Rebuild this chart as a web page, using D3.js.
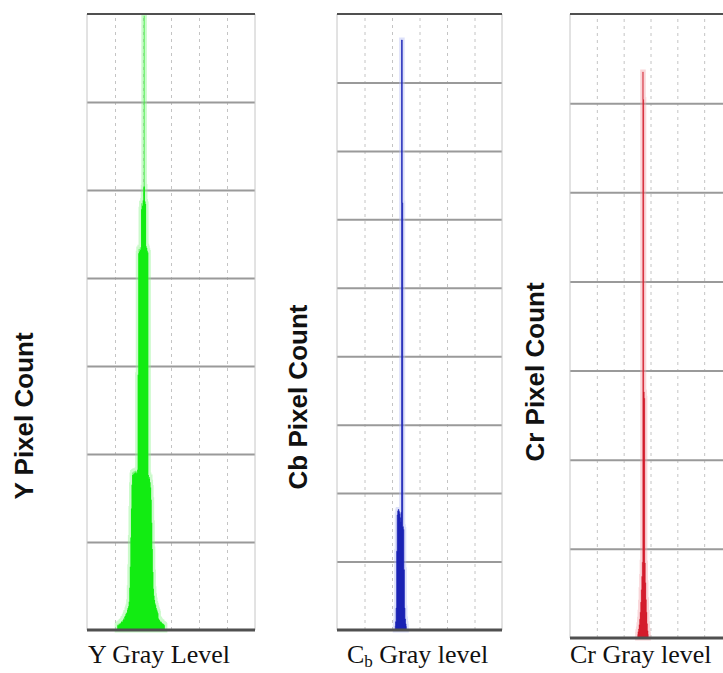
<!DOCTYPE html>
<html lang="en">
<head>
<meta charset="UTF-8">
<title>Y Cb Cr gray level histograms</title>
<script src="https://d3js.org/d3.v7.min.js"></script>
<style>
html, body {
  margin: 0;
  padding: 0;
  background-color: white;
}
#chart svg {
  display: block;
  background-color: white;
}
.grid-h path, .grid-v path {
  display: none;
}
.grid-h line {
  stroke: #9a9a9a;
  stroke-width: 2px;
}
.grid-v line {
  stroke: #c4c4c4;
  stroke-width: 1px;
  stroke-dasharray: 3,4;
}
.side {
  stroke: #c6c6c6;
  stroke-width: 1px;
}
.edge {
  stroke: #505050;
}
.ylabel {
  font-family: "Liberation Sans", Arial, sans-serif;
  font-weight: bold;
  font-size: 26px;
  fill: #111;
}
.xlabel {
  font-family: "Liberation Serif", "Times New Roman", serif;
  font-size: 26px;
  fill: #111;
}
</style>
</head>
<body>
<div id="chart"></div>
<script>

// --------------------------------------
// Data (gray level -> pixel count)
// --------------------------------------

const yLevels = [54,55,56,57,58,59,60,61,62,63,64,65,66,67,68,69,70,71,72,73,74,75,76,77,78,79,
  80,81,82,83,84,85,86,87,88,89,90,91,92,93,94,95,96,97,98,99,100,101,102,103,104,105,106,107,108,109,
  110,111,112,113,114,115,116,117,118,119,120,121,122,123,124,125,126,127,128,129,130,131,132,133,134,
  135,136,137,138,139];
const yCounts = [50,60,55,70,65,80,75,90,100,95,110,130,120,150,160,180,200,190,230,250,270,320,480,720,1050,1380,
  1650,1760,1790,1770,1800,1780,1810,1790,1800,1780,1820,2900,4280,4330,4300,4350,4320,4780,4850,4820,4880,5030,6980,5040,4870,4840,4360,4340,4310,4290,
  1760,1720,1740,1680,1620,1480,1220,920,660,470,390,340,300,280,250,230,210,190,130,120,110,100,90,95,80,
  75,70,65,60,50];

const cbLevels = [106,107,108,109,110,111,112,113,114,115,116,117,118,119,120,121,122,123,124,125,126];
const cbCounts = [60,120,320,1150,1680,1740,1760,1730,1700,1640,1580,1720,8620,6240,1510,1470,880,320,160,90,50];

const crLevels = [126,127,128,129,130,131,132,133,134,135,136,137,138,139,140,141,142,143,144,145,146];
const crCounts = [40,70,100,150,210,290,400,540,690,850,6350,6040,2760,2690,840,620,430,290,160,80,40];

// grid values
const xGridValues = [50, 100, 150, 200, 250];
const yGridY = [1000, 2000, 3000, 4000, 5000, 6000];
const yGridCb = [1000, 2000, 3000, 4000, 5000, 6000, 7000, 8000];
const yGridCr = [1000, 2000, 3000, 4000, 5000, 6000];

// titles
const yTitles = ["Y  Pixel Count", "Cb Pixel Count", "Cr Pixel Count"];
const xTitles = [
  [{t: "Y Gray Level"}],
  [{t: "C"}, {t: "b", sub: true}, {t: " Gray level"}],
  [{t: "Cr Gray level"}]
];

// --------------------------------------
// Layout
// --------------------------------------

let totalWidth = 723;
let totalHeight = 673;

let panels = [
  {levels: yLevels, counts: yCounts, yMax: 7000, yGrid: yGridY,
   fill: "#12ec12", halo: "#8cf58c", line: 0,
   left: 87, right: 255, top: 14, bottom: 630, labelX: 33, labelY: 416, titleX: 88},
  {levels: cbLevels, counts: cbCounts, yMax: 9000, yGrid: yGridCb,
   fill: "#1a22b4", halo: "#b4bcf4", line: 0.7,
   left: 337, right: 502, top: 14, bottom: 630, labelX: 307, labelY: 397, titleX: 347},
  {levels: crLevels, counts: crCounts, yMax: 7000, yGrid: yGridCr,
   fill: "#d41c2c", halo: "#f2a4aa", line: 0.3,
   left: 570, right: 731, top: 14, bottom: 638, labelX: 544, labelY: 372, titleX: 570}
];

let svg = d3.select("#chart")
  .append("svg")
  .attr("width", totalWidth)
  .attr("height", totalHeight);

// --------------------------------------
// Panels
// --------------------------------------

panels.forEach((p, i) => {

  let x = d3.scaleLinear().domain([0, 300]).range([p.left, p.right]);
  let y = d3.scaleLinear().domain([0, p.yMax]).range([p.bottom, p.top]);

  let g = svg.append("g");

  // vertical dashed grid
  g.append("g")
    .attr("class", "grid-v")
    .attr("transform", `translate(0,${p.bottom})`)
    .call(d3.axisBottom(x).tickValues(xGridValues).tickSize(-(p.bottom - p.top)).tickFormat(""));

  // horizontal grid
  g.append("g")
    .attr("class", "grid-h")
    .attr("transform", `translate(${p.left},0)`)
    .call(d3.axisLeft(y).tickValues(p.yGrid).tickSize(-(p.right - p.left)).tickFormat(""));

  // side borders
  [p.left, p.right].forEach(sx => {
    g.append("line").attr("class", "side")
      .attr("x1", sx).attr("x2", sx)
      .attr("y1", p.top).attr("y2", p.bottom);
  });

  // histogram
  let rows = p.levels.map((l, k) => ({level: l, count: p.counts[k]}));

  let area = d3.area()
    .curve(d3.curveStep)
    .x(d => x(d.level))
    .y0(y(0))
    .y1(d => y(d.count));

  g.append("path")
    .datum(rows)
    .attr("d", area)
    .attr("fill", p.halo)
    .attr("fill-opacity", 0.5)
    .attr("stroke", p.halo)
    .attr("stroke-opacity", 0.45)
    .attr("stroke-width", 5);

  g.append("path")
    .datum(rows)
    .attr("d", area)
    .attr("fill", p.fill)
    .attr("stroke", p.fill)
    .attr("stroke-width", p.line);

  // top and bottom frame
  g.append("line").attr("class", "edge")
    .attr("x1", p.left).attr("x2", p.right)
    .attr("y1", y(p.yMax)).attr("y2", y(p.yMax))
    .attr("stroke-width", 2);

  g.append("line").attr("class", "edge")
    .attr("x1", p.left).attr("x2", p.right)
    .attr("y1", y(0)).attr("y2", y(0))
    .attr("stroke", "#444")
    .attr("stroke-width", 3);

  // y title
  g.append("text")
    .attr("class", "ylabel")
    .attr("text-anchor", "middle")
    .attr("transform", `translate(${p.labelX},${p.labelY}) rotate(-90)`)
    .text(yTitles[i]);

  // x title
  let xt = g.append("text")
    .attr("class", "xlabel")
    .attr("x", p.titleX)
    .attr("y", 663);

  xTitles[i].forEach(part => {
    let ts = xt.append("tspan").text(part.t);
    if (part.sub) ts.attr("font-size", "17px").attr("dy", 4);
    else if (xt.selectAll("tspan").size() > 1) ts.attr("dy", -4).attr("font-size", "26px");
  });
});

</script>
</body>
</html>
